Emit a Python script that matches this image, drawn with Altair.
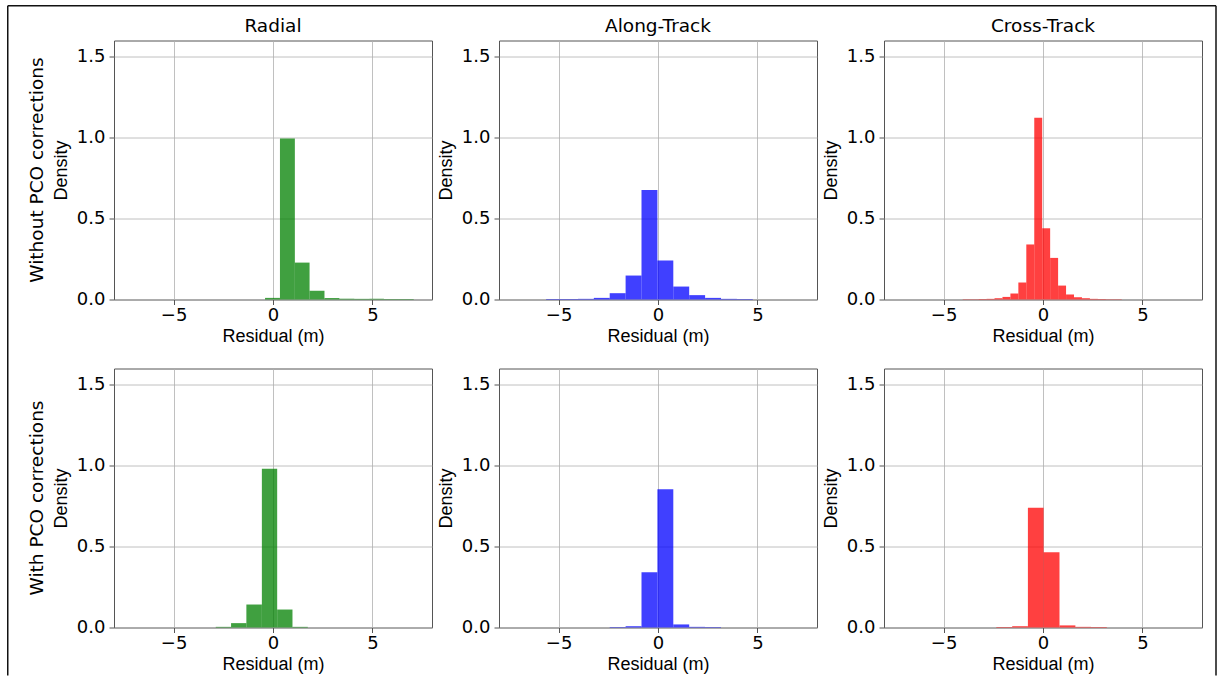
import altair as alt
import pandas as pd

# ---------------- data ----------------
x_domain = [-8, 8]
y_domain = [0, 1.6]
x_ticks = [-5, 0, 5]
y_ticks = [0.0, 0.5, 1.0, 1.5]

col_titles = ["Radial", "Along-Track", "Cross-Track"]
row_titles = ["Without PCO corrections", "With PCO corrections"]
colors = ["#008000", "#0000ff", "#ff0000"]

# Without PCO corrections
radial_without_edges = [-0.40, 0.35, 1.10, 1.84, 2.59, 3.34, 4.09, 4.84, 5.58, 6.33, 7.08]
radial_without_density = [0.010, 0.995, 0.228, 0.054, 0.009, 0.005, 0.004, 0.004, 0.003, 0.003]

along_without_edges = [-5.63, -4.83, -4.03, -3.23, -2.43, -1.63, -0.83, -0.03, 0.77, 1.57, 2.37, 3.17, 3.97, 4.77]
along_without_density = [0.003, 0.003, 0.004, 0.010, 0.039, 0.148, 0.677, 0.241, 0.080, 0.027, 0.010, 0.004, 0.003]

cross_without_edges = [-4.04, -3.64, -3.24, -2.84, -2.44, -2.04, -1.64, -1.24, -0.84, -0.44, -0.04,
                       0.36, 0.76, 1.16, 1.56, 1.96, 2.36, 2.76, 3.16, 3.56, 3.96]
cross_without_density = [0.002, 0.002, 0.003, 0.004, 0.008, 0.016, 0.037, 0.105, 0.340, 1.123,
                         0.440, 0.257, 0.086, 0.031, 0.014, 0.008, 0.004, 0.003, 0.002, 0.002]

# With PCO corrections
radial_with_edges = [-2.88, -2.11, -1.34, -0.56, 0.21, 0.98, 1.75]
radial_with_density = [0.004, 0.027, 0.142, 0.981, 0.111, 0.004]

along_with_edges = [-2.43, -1.63, -0.83, -0.03, 0.77, 1.57, 2.37, 3.17]
along_with_density = [0.003, 0.008, 0.342, 0.854, 0.019, 0.004, 0.003]

cross_with_edges = [-2.35, -1.55, -0.76, 0.03, 0.83, 1.63, 2.42, 3.21]
cross_with_density = [0.003, 0.008, 0.739, 0.465, 0.013, 0.004, 0.003]

rows = [
    [(radial_without_edges, radial_without_density),
     (along_without_edges, along_without_density),
     (cross_without_edges, cross_without_density)],
    [(radial_with_edges, radial_with_density),
     (along_with_edges, along_with_density),
     (cross_with_edges, cross_with_density)],
]

W, H = 318, 259


def panel(edges, dens, color, title=None, row_label=None, frame=False):
    df = pd.DataFrame({"x0": edges[:-1], "x1": edges[1:], "d": dens})
    bars = alt.Chart(df).mark_rect(color=color, opacity=0.75).encode(
        x=alt.X("x0:Q",
                scale=alt.Scale(domain=x_domain, nice=False, zero=False),
                axis=alt.Axis(values=x_ticks, title="Residual (m)", format="d")),
        x2="x1:Q",
        y=alt.Y("d:Q",
                scale=alt.Scale(domain=y_domain, nice=False),
                axis=alt.Axis(values=y_ticks, format=".1f", title="Density")),
        y2=alt.datum(0),
    )
    layers = [bars]
    if row_label is not None:
        lab = alt.Chart(pd.DataFrame({"t": [row_label]})).mark_text(
            angle=270, font="DejaVu Sans", fontSize=18.5, baseline="alphabetic",
            align="center", color="black"
        ).encode(x=alt.value(-71.5), y=alt.value(H / 2), text="t:N")
        layers.append(lab)
    if frame:
        # outer figure border, drawn from the bottom-left panel (plot top at y=368)
        one = pd.DataFrame({"k": [0]})
        fstyle = dict(color="#111", strokeWidth=1.5)
        top_y = -362.7
        bot_y = 307
        left = alt.Chart(one).mark_rule(**fstyle).encode(
            x=alt.value(-106.25), y=alt.value(top_y), y2=alt.value(bot_y))
        top = alt.Chart(one).mark_rule(**fstyle).encode(
            x=alt.value(-106.25), x2=alt.value(1102), y=alt.value(top_y))
        right = alt.Chart(one).mark_rule(**fstyle).encode(
            x=alt.value(1102), y=alt.value(top_y), y2=alt.value(bot_y))
        layers += [left, top, right]
    ch = alt.layer(*layers).properties(width=W, height=H)
    if title is not None:
        ch = ch.properties(title=title)
    return ch


panels = []
for r, row in enumerate(rows):
    for c, (edges, dens) in enumerate(row):
        panels.append(panel(
            edges, dens, colors[c],
            title=col_titles[c] if r == 0 else None,
            row_label=row_titles[r] if c == 0 else None,
            frame=(r == 1 and c == 0),
        ))

chart = alt.concat(
    *panels, columns=3, spacing={"row": 69, "column": 67}, bounds="flush"
).properties(
    padding={"left": 6, "top": 4.5, "right": 0, "bottom": 0},
    background="white",
).configure_view(
    stroke="#555", strokeWidth=1
).configure_axis(
    labelFont="DejaVu Sans", labelFontSize=18, labelColor="black",
    titleFont="Liberation Sans", titleFontSize=18, titleFontWeight="normal",
    titleColor="black", gridColor="#b0b0b0", gridWidth=0.8, domain=False,
    tickColor="#555", tickSize=5, labelPadding=4,
).configure_axisX(
    titlePadding=3, labelPadding=2,
).configure_axisY(
    titlePadding=6,
).configure_title(
    font="DejaVu Sans", fontSize=18.5, fontWeight="normal", color="black",
    baseline="alphabetic", offset=5.5, frame="group", anchor="middle",
)

chart.save("out.html", embed_options={"renderer": "svg", "actions": False})
